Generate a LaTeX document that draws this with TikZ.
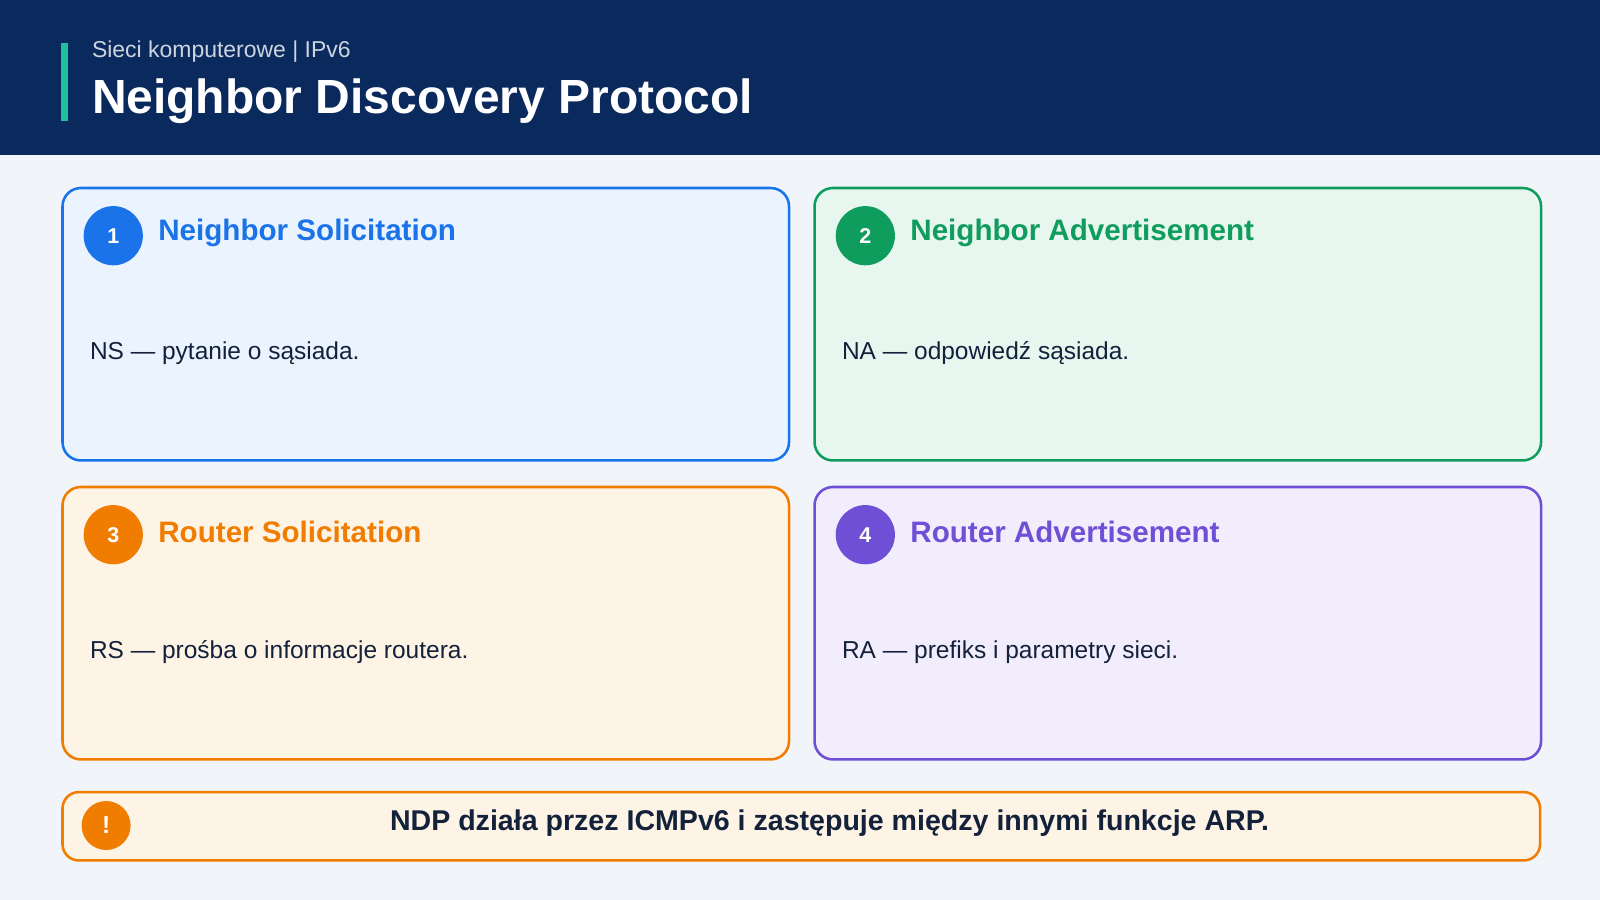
\documentclass[tikz,border=0pt]{standalone}
\usepackage{fontspec}
\setmainfont{Liberation Sans}
\usetikzlibrary{positioning}
\definecolor{navy}{HTML}{0A2A5E}
\definecolor{teal}{HTML}{20C09C}
\definecolor{pagebg}{HTML}{F1F5FA}
\definecolor{ink}{HTML}{13213B}
\definecolor{nsblue}{HTML}{1A73E8}
\definecolor{nsfill}{HTML}{EBF3FE}
\definecolor{nagreen}{HTML}{0F9D5E}
\definecolor{nafill}{HTML}{E7F7EF}
\definecolor{rsorange}{HTML}{F07C00}
\definecolor{rsfill}{HTML}{FEF4E6}
\definecolor{rapurple}{HTML}{6F4FD6}
\definecolor{rafill}{HTML}{F1EDFD}
\begin{document}
\begin{tikzpicture}[x=1pt,y=-1pt]
	\tikzstyle{card} = [rectangle, draw, line width=2.5pt, rounded corners=18pt, minimum width=712pt, minimum height=267pt, anchor=north west]
	\tikzstyle{badge} = [circle, minimum size=58pt, inner sep=0pt, text=white, font=\fontsize{21}{21}\selectfont\bfseries]
	\tikzstyle{heading} = [anchor=west, inner sep=0pt, font=\fontsize{29}{29}\selectfont\bfseries]
	\tikzstyle{body} = [anchor=west, inner sep=0pt, text=ink, font=\fontsize{24}{24}\selectfont]
\useasboundingbox (0,0) rectangle (1568,882);
\fill [pagebg] (0,0) rectangle (1568,882);
\fill [navy] (0,0) rectangle (1568,152);
\fill [teal] (60,42) rectangle (67,119);
\node [anchor=west, inner sep=0pt, text=white!80!navy, font=\fontsize{22.5}{22.5}\selectfont] at (90,51) (sub) {Sieci komputerowe | IPv6};
\node [anchor=west, inner sep=0pt, text=white, font=\fontsize{47}{47}\selectfont\bfseries] at (90,99) (title) {Neighbor Discovery Protocol};
% cards
\node [card, draw=nsblue, fill=nsfill] at (60,183) (ns) {};
\node [badge, fill=nsblue] at (111,231) (nsb) {1};
\node [heading, text=nsblue] at (155,228) (nsh) {Neighbor Solicitation};
\node [body] at (88,346) (nst) {NS — pytanie o sąsiada.};
\node [card, draw=nagreen, fill=nafill] at (797,183) (na) {};
\node [badge, fill=nagreen] at (848,231) (nab) {2};
\node [heading, text=nagreen] at (892,228) (nah) {Neighbor Advertisement};
\node [body] at (825,346) (nat) {NA — odpowiedź sąsiada.};
\node [card, draw=rsorange, fill=rsfill] at (60,476) (rs) {};
\node [badge, fill=rsorange] at (111,524) (rsb) {3};
\node [heading, text=rsorange] at (155,521) (rsh) {Router Solicitation};
\node [body] at (88,639) (rst) {RS — prośba o informacje routera.};
\node [card, draw=rapurple, fill=rafill] at (797,476) (ra) {};
\node [badge, fill=rapurple] at (848,524) (rab) {4};
\node [heading, text=rapurple] at (892,521) (rah) {Router Advertisement};
\node [body] at (825,639) (rat) {RA — prefiks i parametry sieci.};
% note
\node [card, draw=rsorange, fill=rsfill, minimum width=1448pt, minimum height=67pt, rounded corners=16pt] at (60,775) (note) {};
\node [badge, fill=rsorange, minimum size=48pt, font=\fontsize{24}{24}\selectfont\bfseries] at (104,809) (noteb) {!};
\node [inner sep=0pt, text=ink, font=\fontsize{28}{28}\selectfont\bfseries] at (813,807) (notet) {NDP działa przez ICMPv6 i zastępuje między innymi funkcje ARP.};
\end{tikzpicture}
\end{document}
